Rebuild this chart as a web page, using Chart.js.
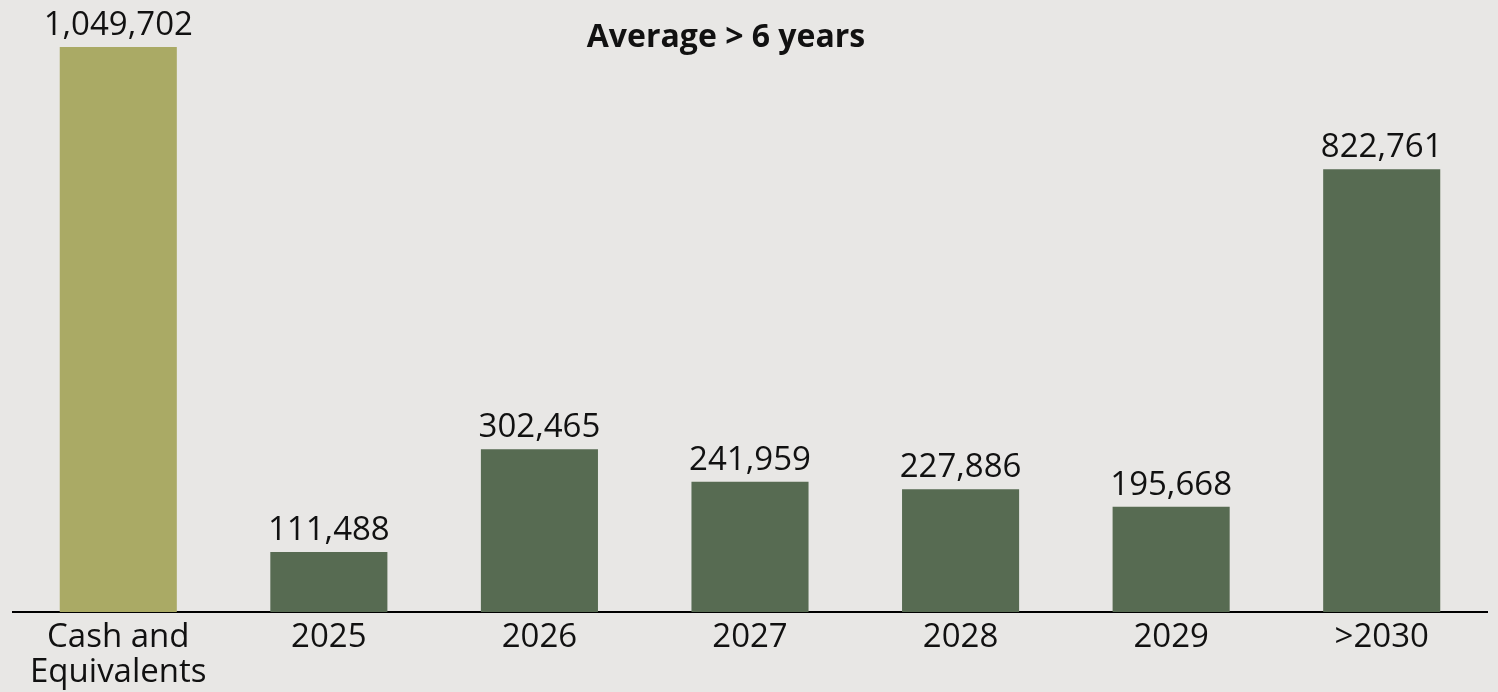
<!DOCTYPE html>
<html>
<head>
<meta charset="utf-8">
<title>Debt maturity profile</title>
<script src="https://cdn.jsdelivr.net/npm/chart.js@4.4.1/dist/chart.umd.min.js"></script>
<style>
  html, body { margin: 0; padding: 0; background: #E8E7E5; }
  #wrap { width: 1498px; height: 692px; position: relative; }
  canvas { display: block; }
</style>
</head>
<body>
<div id="wrap"><canvas id="c" width="1498" height="692"></canvas></div>
<script>
// Categories along the x axis (first one wraps onto two lines)
const categories = [["Cash and", "Equivalents"], "2025", "2026", "2027", "2028", "2029", ">2030"];
// Amounts per category
const amounts = [1049702, 111488, 302465, 241959, 227886, 195668, 822761];
// Bar colours: cash in olive, maturities in dark green
const barColors = ["#AAAA65", "#576B52", "#576B52", "#576B52", "#576B52", "#576B52", "#576B52"];
const headline = "Average > 6 years";

const FONT = "'Open Sans', 'Noto Sans', sans-serif";

// Writes the formatted amount above each bar
const valueLabels = {
  id: "valueLabels",
  afterDatasetsDraw(chart) {
    const ctx = chart.ctx;
    const meta = chart.getDatasetMeta(0);
    ctx.save();
    ctx.font = "33px " + FONT;
    ctx.fillStyle = "#111111";
    ctx.textAlign = "center";
    ctx.textBaseline = "alphabetic";
    meta.data.forEach((bar, i) => {
      ctx.fillText(amounts[i].toLocaleString("en-US"), bar.x, bar.y - 12);
    });
    ctx.restore();
  }
};

// Bold headline near the top
const headlineText = {
  id: "headlineText",
  afterDraw(chart) {
    const ctx = chart.ctx;
    ctx.save();
    ctx.font = "bold 32px " + FONT;
    ctx.fillStyle = "#111111";
    ctx.textAlign = "center";
    ctx.textBaseline = "alphabetic";
    ctx.fillText(headline, 726, 47);
    ctx.restore();
  }
};

new Chart(document.getElementById("c"), {
  type: "bar",
  data: {
    labels: categories,
    datasets: [{
      data: amounts,
      backgroundColor: barColors,
      borderWidth: 0,
      categoryPercentage: 1.0,
      barPercentage: 0.556
    }]
  },
  options: {
    responsive: false,
    animation: false,
    events: [],
    layout: { padding: { left: 13, right: 11, top: 47, bottom: 0 } },
    plugins: {
      legend: { display: false },
      tooltip: { enabled: false },
      title: { display: false }
    },
    scales: {
      x: {
        afterFit(scale) { scale.height = 80; },
        grid: { display: false, drawTicks: false },
        border: { display: true, color: "#000000", width: 2 },
        ticks: {
          color: "#111111",
          font: { family: FONT, size: 33, lineHeight: 1.07 },
          padding: 8,
          maxRotation: 0,
          autoSkip: false
        }
      },
      y: {
        display: false,
        min: 0,
        max: 1049702
      }
    }
  },
  plugins: [valueLabels, headlineText]
});
</script>
</body>
</html>
